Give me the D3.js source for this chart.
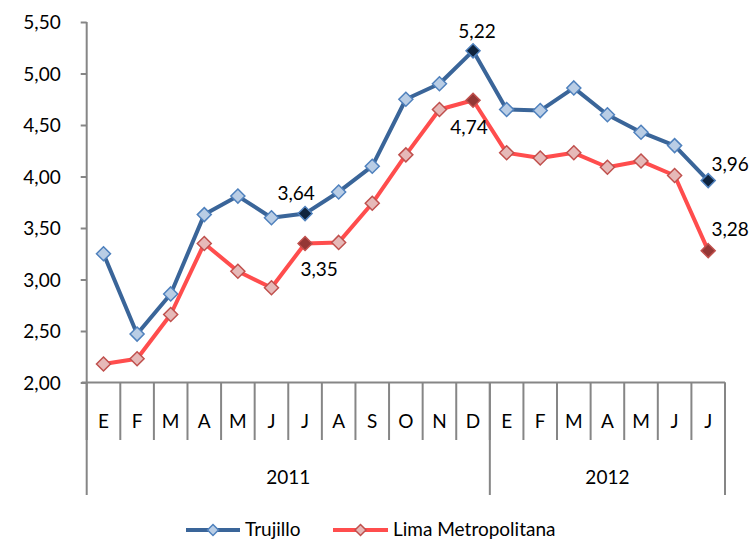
<!DOCTYPE html>
<html><head><meta charset="utf-8">
<script src="https://cdn.jsdelivr.net/npm/d3@7/dist/d3.min.js"></script>
<style>
html,body{margin:0;padding:0;background:#fff;}
svg text{font-family:Lato,"Open Sans",sans-serif;fill:#000;}
</style></head>
<body><svg id="c" width="750" height="540"></svg>
<script>
const months = ["E","F","M","A","M","J","J","A","S","O","N","D","E","F","M","A","M","J","J"];
const yearLabels = ["2011","2012"];
const yearCounts = [12,7];
const trujillo = [3.25,2.47,2.86,3.63,3.81,3.60,3.64,3.85,4.10,4.75,4.90,5.22,4.65,4.64,4.86,4.60,4.43,4.30,3.96];
const lima = [2.18,2.23,2.66,3.35,3.08,2.92,3.35,3.36,3.74,4.21,4.65,4.74,4.23,4.18,4.23,4.09,4.15,4.01,3.28];
const highlighted = [6,11,18];
const yTicks = [2.0,2.5,3.0,3.5,4.0,4.5,5.0,5.5];
const seriesNames = ["Trujillo","Lima Metropolitana"];

(function(){
const loc = d3.formatLocale({decimal:",",thousands:".",grouping:[3],currency:["",""]});
const fmt = loc.format(".2f");
const FS = "19px";

const svg = d3.select("#c");
const pL = 86.7, pR = 725, pT = 22, pB = 382.5;
const x = d3.scaleBand().domain(d3.range(months.length)).range([pL,pR]).padding(0);
const y = d3.scaleLinear().domain([2,5.5]).range([pB,pT]);
const gray = "#868686";

// Y axis
const ya = svg.append("g").attr("transform",`translate(${pL},0)`)
  .call(d3.axisLeft(y).tickValues(yTicks).tickFormat(fmt).tickSize(6).tickPadding(20));
ya.select(".domain").attr("stroke",gray).attr("stroke-width",2).attr("d",`M0,${pT}V${pB}`);
ya.selectAll(".tick line").attr("stroke",gray).attr("stroke-width",2);
ya.selectAll(".tick text").style("font-size",FS).attr("fill","#000").attr("dy","0.36em");

// X axis horizontal line
svg.append("line").attr("x1",pL-5).attr("x2",pR).attr("y1",pB).attr("y2",pB)
  .attr("stroke",gray).attr("stroke-width",2);
// month separators
const bounds = d3.range(months.length+1).map(i => i<months.length ? x(i) : x(months.length-1)+x.bandwidth());
svg.append("g").selectAll("line").data(bounds).join("line")
  .attr("x1",d=>d).attr("x2",d=>d).attr("y1",pB).attr("y2",440)
  .attr("stroke",gray).attr("stroke-width",2);
// year separators
const yearStarts = [0];
yearCounts.forEach((c,i)=>yearStarts.push(yearStarts[i]+c));
svg.append("g").selectAll("line").data(yearStarts.map(i=>bounds[i])).join("line")
  .attr("x1",d=>d).attr("x2",d=>d).attr("y1",pB).attr("y2",495)
  .attr("stroke",gray).attr("stroke-width",2);
// month labels
svg.append("g").selectAll("text").data(months).join("text")
  .attr("x",(d,i)=>x(i)+x.bandwidth()/2).attr("y",428).attr("text-anchor","middle")
  .style("font-size",FS).text(d=>d);
// year labels
svg.append("g").selectAll("text").data(yearLabels).join("text")
  .attr("x",(d,i)=>(bounds[yearStarts[i]]+bounds[yearStarts[i+1]])/2).attr("y",484)
  .attr("text-anchor","middle").style("font-size",FS).text(d=>d);

const styles = [
  {line:"#3A6599", fill:"#B9CDE5", stroke:"#4F81BD", hi:"#0F243E"},
  {line:"#FF4D4D", fill:"#E6B9B8", stroke:"#C0504D", hi:"#953735"}
];
const diamond = (cx,cy,r)=>`M${cx},${cy-r}L${cx+r},${cy}L${cx},${cy+r}L${cx-r},${cy}Z`;
const cx = i => x(i)+x.bandwidth()/2;

[trujillo,lima].forEach((data,si)=>{
  const st = styles[si];
  svg.append("path").datum(data)
    .attr("d",d3.line().x((d,i)=>cx(i)).y(d=>y(d)))
    .attr("fill","none").attr("stroke",st.line).attr("stroke-width",4).attr("stroke-linejoin","round");
  svg.append("g").selectAll("path").data(data).join("path")
    .attr("d",(d,i)=>diamond(cx(i),y(d),7))
    .attr("fill",(d,i)=>highlighted.includes(i)?st.hi:st.fill)
    .attr("stroke",st.stroke).attr("stroke-width",1.5);
});

// data labels
const labelOffsets = {
  0:{6:[-9,-20],11:[4,-20],18:[22,-16]},
  1:{6:[14,26],11:[-4,27],18:[22,-22]}
};
[trujillo,lima].forEach((data,si)=>{
  highlighted.forEach(i=>{
    const o = labelOffsets[si][i];
    svg.append("text").attr("x",cx(i)+o[0]).attr("y",y(data[i])+o[1]).attr("dy","0.36em")
      .attr("text-anchor","middle").style("font-size",FS).text(fmt(data[i]));
  });
});

// legend
const leg = [{x0:186,x1:240,tx:245},{x0:333,x1:388,tx:393}];
leg.forEach((l,si)=>{
  const st = styles[si];
  svg.append("line").attr("x1",l.x0).attr("x2",l.x1).attr("y1",530).attr("y2",530)
    .attr("stroke",st.line).attr("stroke-width",4);
  svg.append("path").attr("d",diamond((l.x0+l.x1)/2,530,5.5)).attr("fill",st.fill)
    .attr("stroke",st.stroke).attr("stroke-width",1.5);
  svg.append("text").attr("x",l.tx).attr("y",536).style("font-size",FS).text(seriesNames[si]);
});
})();
</script></body></html>
